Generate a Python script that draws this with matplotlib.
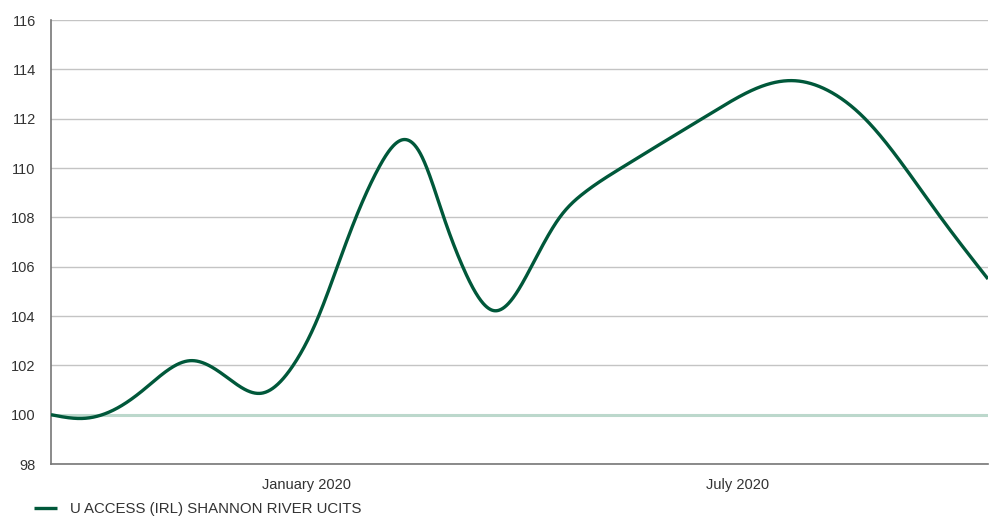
import numpy as np
import matplotlib
matplotlib.use("Agg")
import matplotlib.pyplot as plt
import matplotlib.dates as mdates
from datetime import date

# ---- data ----
series_name = "U ACCESS (IRL) SHANNON RIVER UCITS"
dates = ["2019-09-15", "2019-09-29", "2019-10-14", "2019-10-24", "2019-11-13",
         "2019-11-28", "2019-12-13", "2019-12-26", "2020-01-06", "2020-01-14",
         "2020-01-22", "2020-01-31", "2020-02-10", "2020-02-18",
         "2020-02-28", "2020-03-07", "2020-03-20", "2020-03-27",
         "2020-04-05", "2020-04-17", "2020-04-27", "2020-05-13", "2020-05-30",
         "2020-06-21", "2020-07-11", "2020-07-25", "2020-08-08", "2020-08-24",
         "2020-09-10", "2020-09-25", "2020-10-15"]
values = [100.0, 99.85, 100.32, 101.0, 102.19,
          101.54, 100.87, 101.95, 103.97, 106.0,
          108.03, 109.92, 111.13, 110.6,
          108.0, 106.0, 104.22, 104.58,
          106.0, 108.0, 108.97, 110.0, 111.0,
          112.28, 113.30, 113.54, 113.16, 112.0,
          110.0, 108.0, 105.5]
baseline = 100
y_ticks = [98, 100, 102, 104, 106, 108, 110, 112, 114, 116]
x_tick_dates = ["2020-01-01", "2020-07-01"]
x_tick_labels = ["January 2020", "July 2020"]


# ---- smooth drawing: natural cubic spline through the read points ----
def natural_spline(x, y, xn):
    x = np.asarray(x, float); y = np.asarray(y, float)
    n = len(x); h = np.diff(x)
    A = np.zeros((n, n)); b = np.zeros(n)
    A[0, 0] = 1; A[-1, -1] = 1
    for i in range(1, n - 1):
        A[i, i - 1] = h[i - 1]
        A[i, i] = 2 * (h[i - 1] + h[i])
        A[i, i + 1] = h[i]
        b[i] = 6 * ((y[i + 1] - y[i]) / h[i] - (y[i] - y[i - 1]) / h[i - 1])
    M = np.linalg.solve(A, b)
    idx = np.clip(np.searchsorted(x, xn) - 1, 0, n - 2)
    hi = h[idx]; a = x[idx + 1] - xn; c = xn - x[idx]
    return (M[idx] * a**3 / (6 * hi) + M[idx + 1] * c**3 / (6 * hi)
            + (y[idx] / hi - M[idx] * hi / 6) * a
            + (y[idx + 1] / hi - M[idx + 1] * hi / 6) * c)


xd = mdates.date2num([date.fromisoformat(s) for s in dates])
xs = np.linspace(xd[0], xd[-1], 2000)
ys = natural_spline(xd, values, xs)

plt.rcParams['font.family'] = ['Liberation Sans', 'DejaVu Sans']

fig = plt.figure(figsize=(9.94, 5.18), dpi=100)
ax = fig.add_axes([51 / 994, (518 - 464) / 518, (988 - 51) / 994, (464 - 20) / 518])

ax.set_ylim(98, 116)
ax.set_yticks(y_ticks)
ax.set_xlim(xd[0], xd[-1])
ax.set_xticks(mdates.date2num([date.fromisoformat(s) for s in x_tick_dates]))
ax.set_xticklabels(x_tick_labels)

ax.grid(axis='y', color='#c4c4c4', linewidth=1.0)
ax.set_axisbelow(True)
ax.axhline(baseline, color='#bcd8cc', linewidth=2.2, zorder=2)
line, = ax.plot(xs, ys, color='#00583a', linewidth=2.4, zorder=3,
                solid_capstyle='butt')

for s in ['top', 'right']:
    ax.spines[s].set_visible(False)
for s in ['left', 'bottom']:
    ax.spines[s].set_color('#777777')
    ax.spines[s].set_linewidth(1.2)

ax.tick_params(axis='both', length=0, labelsize=10.5, labelcolor='#333333')
ax.tick_params(axis='y', pad=11)
ax.tick_params(axis='x', pad=10)

fig.legend([line], [series_name], loc='center left',
           bbox_to_anchor=(28 / 994, 1 - 509 / 518), frameon=False,
           handlelength=1.5, handletextpad=0.9, fontsize=10.8,
           labelcolor='#333333', borderaxespad=0)

fig.savefig("out.png", dpi=100)
